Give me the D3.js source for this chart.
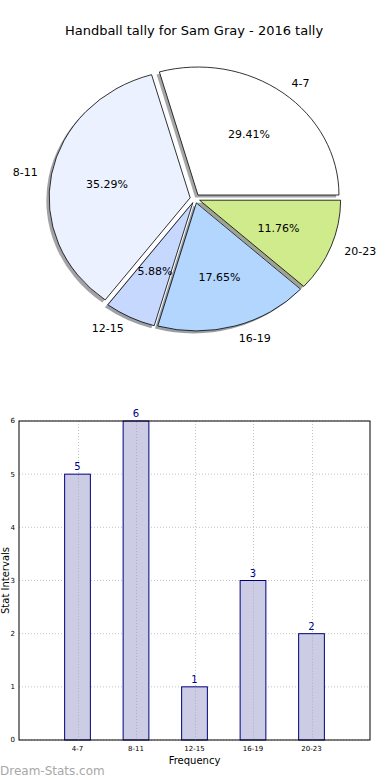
<!DOCTYPE html>
<html><head><meta charset="utf-8">
<script src="https://cdn.jsdelivr.net/npm/d3@7"></script>
<style>body{margin:0;background:#fff;}svg{display:block;font-family:"DejaVu Sans",sans-serif;}</style>
</head><body>
<script>
const title = "Handball tally for Sam Gray - 2016 tally";
const categories = ["4-7","8-11","12-15","16-19","20-23"];
const values = [5,6,1,3,2];
const sliceColors = ["#ffffff","#ebf1ff","#c7d8ff","#b3d6ff","#d0eb8c"];
const yTicks = [0,1,2,3,4,5,6];
const xLabel = "Frequency";
const yLabel = "Stat Intervals";
const watermark = "Dream-Stats.com";

const W = 390, H = 780;
const svg = d3.select("body").append("svg").attr("width", W).attr("height", H);

svg.append("text").attr("x", 194).attr("y", 35).attr("text-anchor","middle")
  .attr("font-size", 13).attr("fill","#000").text(title);

// ---- Pie (matplotlib style: starts at 3 o'clock, counter-clockwise, elliptical) ----
const cx = 195, cy = 198.6, rx = 141, ry = 128, explode = 0.035;
const total = d3.sum(values);
const pie = d3.pie().sort(null).startAngle(Math.PI/2).endAngle(Math.PI/2 - 2*Math.PI);
const arcs = pie(values);
const R = 100;
const arcGen = d3.arc().innerRadius(0).outerRadius(R);

function midTheta(a){
  const m = (a.startAngle + a.endAngle)/2;
  return Math.PI/2 - m;
}
const gPie = svg.append("g");
function wedgeTransform(a, dx, dy){
  const t = midTheta(a);
  const ox = cx + explode*rx*Math.cos(t) + dx;
  const oy = cy - explode*ry*Math.sin(t) + dy;
  return `translate(${ox},${oy}) scale(${rx/R},${ry/R})`;
}
gPie.selectAll("path.shadow").data(arcs).join("path").attr("class","shadow")
  .attr("d", arcGen).attr("transform", (d,i)=>wedgeTransform(d,-0.02*rx,0.02*ry))
  .attr("fill", (d,i)=>{const c=d3.rgb(sliceColors[i]); return d3.rgb(c.r*0.3,c.g*0.3,c.b*0.3);})
  .attr("fill-opacity",0.5).attr("stroke","none");
gPie.selectAll("path.wedge").data(arcs).join("path").attr("class","wedge")
  .attr("d", arcGen).attr("transform", d=>wedgeTransform(d,0,0))
  .attr("fill", (d,i)=>sliceColors[i]).attr("stroke","#000").attr("stroke-width",0.8)
  .attr("vector-effect","non-scaling-stroke").attr("stroke-linejoin","miter");
arcs.forEach((a,i)=>{
  const t = midTheta(a);
  const ox = cx + explode*rx*Math.cos(t), oy = cy - explode*ry*Math.sin(t);
  const lx = ox + 1.1*rx*Math.cos(t), ly = oy - 1.1*ry*Math.sin(t);
  gPie.append("text").attr("x", lx).attr("y", ly).attr("dy","0.35em")
    .attr("text-anchor", Math.cos(t) > 0 ? "start" : "end")
    .attr("font-size", 11).attr("fill","#000").text(categories[i]);
  const px = ox + 0.6*rx*Math.cos(t), py = oy - 0.6*ry*Math.sin(t);
  gPie.append("text").attr("x", px).attr("y", py).attr("dy","0.35em")
    .attr("text-anchor","middle").attr("font-size", 11).attr("fill","#000")
    .text((values[i]/total*100).toFixed(2) + "%");
});

// ---- Bar chart ----
const pL = 19, pR = 370, pT = 421, pB = 740;
const x = d3.scaleLinear().domain([-1, categories.length]).range([pL, pR]);
const y = d3.scaleLinear().domain([0, 6]).range([pB, pT]);
const barW = 0.44;
const gB = svg.append("g");
gB.selectAll("line.hg").data(yTicks).join("line").attr("class","hg")
  .attr("x1", pL).attr("x2", pR).attr("y1", d=>y(d)).attr("y2", d=>y(d))
  .attr("stroke","#c4c4c4").attr("stroke-width",1).attr("stroke-dasharray","1,2");
gB.selectAll("line.vg").data(categories).join("line").attr("class","vg")
  .attr("x1", (d,i)=>Math.round(x(i))+0.5).attr("x2", (d,i)=>Math.round(x(i))+0.5)
  .attr("y1", pT).attr("y2", pB)
  .attr("stroke","#c4c4c4").attr("stroke-width",1).attr("stroke-dasharray","1,2");
gB.selectAll("rect.bar").data(values).join("rect").attr("class","bar")
  .attr("x", (d,i)=>x(i - barW/2)).attr("width", x(barW) - x(0))
  .attr("y", d=>y(d)).attr("height", d=>y(0)-y(d))
  .attr("fill","#ccccE4").attr("stroke","#00007f").attr("stroke-width",1);
gB.selectAll("line.vg2").data(values).join("line").attr("class","vg2")
  .attr("x1", (d,i)=>Math.round(x(i))+0.5).attr("x2", (d,i)=>Math.round(x(i))+0.5)
  .attr("y1", d=>y(d)+1).attr("y2", pB)
  .attr("stroke","#b0b0c0").attr("stroke-width",1).attr("stroke-dasharray","1,2");
gB.selectAll("text.val").data(values).join("text").attr("class","val")
  .attr("x", (d,i)=>x(i)).attr("y", d=>y(d)-4).attr("text-anchor","middle")
  .attr("font-size", 10).attr("fill","#00008b").text(d=>d);
gB.append("rect").attr("x", pL).attr("y", pT).attr("width", pR-pL).attr("height", pB-pT)
  .attr("fill","none").attr("stroke","#000").attr("stroke-width",1);
gB.selectAll("text.yt").data(yTicks).join("text").attr("class","yt")
  .attr("x", pL-4).attr("y", d=>y(d)).attr("dy","0.35em").attr("text-anchor","end")
  .attr("font-size", 7).attr("fill","#000").text(d=>d);
gB.selectAll("text.xt").data(categories).join("text").attr("class","xt")
  .attr("x", (d,i)=>x(i)).attr("y", pB+11).attr("text-anchor","middle")
  .attr("font-size", 7).attr("fill","#000").text(d=>d);
gB.append("text").attr("x", (pL+pR)/2).attr("y", 764).attr("text-anchor","middle")
  .attr("font-size", 10).attr("fill","#000").text(xLabel);
gB.append("text").attr("transform", `translate(9,${(pT+pB)/2}) rotate(-90)`)
  .attr("text-anchor","middle").attr("font-size", 10).attr("fill","#000").text(yLabel);
svg.append("text").attr("x", 0).attr("y", 775).attr("font-size", 12)
  .attr("fill","#a8a8a8").text(watermark);
</script>
</body></html>
